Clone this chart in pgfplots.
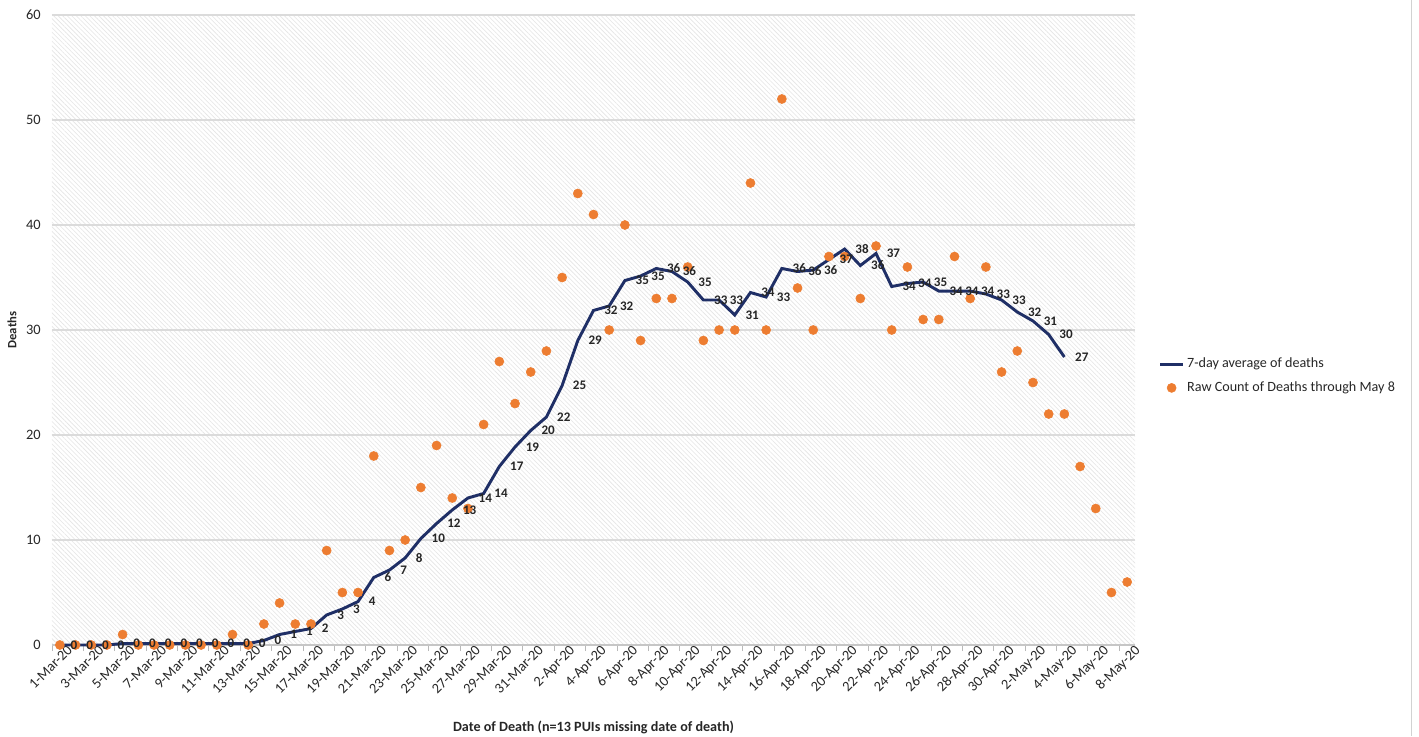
\documentclass[border=0pt]{standalone}
\usepackage{pgfplots}
\pgfplotsset{compat=1.18}
\usepackage{pgfplotstable}
\usepackage{fontspec}
\setmainfont{Carlito}
\usetikzlibrary{patterns.meta}
\definecolor{navyline}{HTML}{1F2F66}
\definecolor{orangedot}{HTML}{ED7D31}
\definecolor{txt}{HTML}{262626}

\pgfplotstableread{
x y
0 0
1 0
2 0
3 0
4 1
5 0
6 0
7 0
8 0
9 0
10 0
11 1
12 0
13 2
14 4
15 2
16 2
17 9
18 5
19 5
20 18
21 9
22 10
23 15
24 19
25 14
26 13
27 21
28 27
29 23
30 26
31 28
32 35
33 43
34 41
35 30
36 40
37 29
38 33
39 33
40 36
41 29
42 30
43 30
44 44
45 30
46 52
47 34
48 30
49 37
50 37
51 33
52 38
53 30
54 36
55 31
56 31
57 37
58 33
59 36
60 26
61 28
62 25
63 22
64 22
65 17
66 13
67 5
68 6
}\rawtable

\pgfplotstableread{
x y
0 0
1 0
2 0
3 0
4 0.14
5 0.14
6 0.14
7 0.14
8 0.14
9 0.14
10 0.14
11 0.14
12 0.14
13 0.43
14 1.00
15 1.29
16 1.57
17 2.86
18 3.43
19 4.14
20 6.43
21 7.14
22 8.29
23 10.14
24 11.57
25 12.86
26 14.00
27 14.43
28 17.00
29 18.86
30 20.43
31 21.71
32 24.71
33 29.00
34 31.86
35 32.29
36 34.71
37 35.14
38 35.86
39 35.57
40 34.57
41 32.86
42 32.86
43 31.43
44 33.57
45 33.14
46 35.86
47 35.57
48 35.71
49 36.71
50 37.71
51 36.14
52 37.29
53 34.14
54 34.43
55 34.57
56 33.71
57 33.71
58 33.71
59 33.43
60 32.86
61 31.71
62 30.86
63 29.57
64 27.43
}\avgtable

\begin{document}
\begin{tikzpicture}
\useasboundingbox (-39pt,-68.25pt) rectangle (1025.25pt,483.75pt);
\begin{axis}[
  at={(0,0)}, anchor=south west,
  scale only axis,
  width=812.25pt, height=472.5pt,
  xmin=-0.5, xmax=68.5,
  ymin=0, ymax=60,
  ytick={0,10,...,60},
  xtick={0,2,...,68},
  xticklabels={1-Mar-20,3-Mar-20,5-Mar-20,7-Mar-20,9-Mar-20,11-Mar-20,13-Mar-20,15-Mar-20,17-Mar-20,19-Mar-20,21-Mar-20,23-Mar-20,25-Mar-20,27-Mar-20,29-Mar-20,31-Mar-20,2-Apr-20,4-Apr-20,6-Apr-20,8-Apr-20,10-Apr-20,12-Apr-20,14-Apr-20,16-Apr-20,18-Apr-20,20-Apr-20,22-Apr-20,24-Apr-20,26-Apr-20,28-Apr-20,30-Apr-20,2-May-20,4-May-20,6-May-20,8-May-20},
  minor xtick={-0.5,1.5,...,67.5},
  major tick length=0pt,
  minor tick length=4.5pt,
  xtick align=outside,
  minor tick style={draw=gray!55, line width=0.7pt},
  axis x line*=bottom, axis y line*=left,
  x axis line style={draw=gray!45, line width=0.9pt, -},
  y axis line style={draw=none},
  ymajorgrids,
  major grid style={draw=gray!28, line width=1pt},
  axis background/.style={fill=white, postaction={pattern={Lines[angle=-45,distance=2.4pt,line width=0.45pt]}, pattern color=gray!20}},
  /pgf/number format/assume math mode=true,
  tick label style={font=\fontsize{10.8}{12}\selectfont, text=txt},
  xticklabel style={rotate=45, anchor=north east, inner sep=1pt, xshift=5pt, yshift=-2pt},
  yticklabel style={xshift=-5pt},
  xlabel={Date of Death (n=13 PUIs missing date of death)},
  ylabel={Deaths},
  every axis x label/.style={at={(axis description cs:0.5,0)}, anchor=center, yshift=-62pt, font=\bfseries\fontsize{10.6}{12}\selectfont, text=txt},
  every axis y label/.style={at={(axis description cs:0,0.5)}, xshift=-30pt, rotate=90, anchor=center, font=\bfseries\fontsize{9.5}{12}\selectfont, text=txt},
  legend style={at={(1.018,0.427)}, anchor=west, draw=none, fill=none, font=\fontsize{10.6}{12}\selectfont, text=txt, row sep=5pt, legend cell align=left},
  reverse legend,
  clip=false,
]
\addplot[only marks, mark=*, mark size=3.4pt, mark options={draw=orangedot, fill=orangedot}] table[x=x,y=y] {\rawtable};
\addlegendentry{Raw Count of Deaths through May 8}
\addplot[navyline, line width=2.2pt, mark=none,
  point meta=y,
  nodes near coords={\pgfmathprintnumber[fixed,precision=0]{\pgfplotspointmeta}},
  every node near coord/.append style={anchor=west, xshift=6pt, inner sep=1pt, font=\bfseries\fontsize{9.8}{11}\selectfont, text=txt}
] table[x=x,y=y] {\avgtable};
\addlegendentry{7-day average of deaths}
\end{axis}
\draw[gray!35, line width=0.6pt] (1019.25pt,483.75pt) -- (1019.25pt,-68.25pt);
\end{tikzpicture}
\end{document}
